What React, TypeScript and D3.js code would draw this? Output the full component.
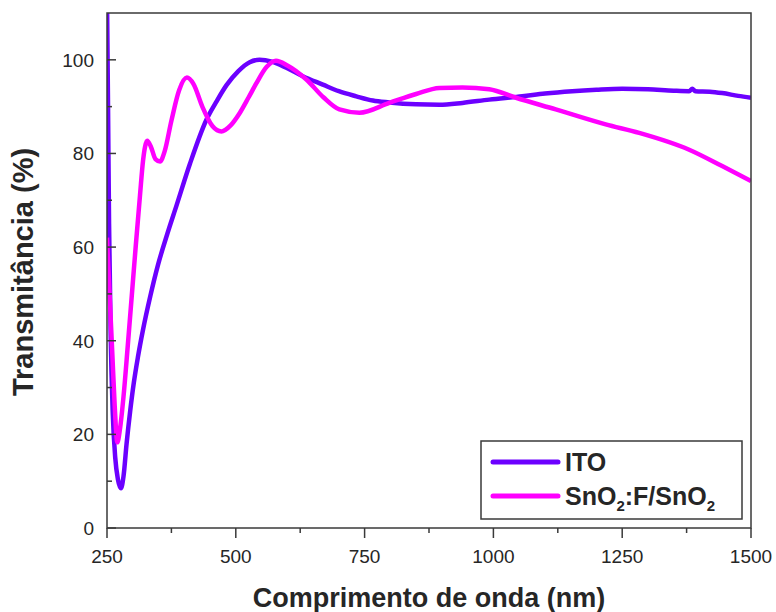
import * as d3 from "d3";

// wavelength (nm) / transmittance (%)
const itoWave = [250, 252, 254, 257, 261, 266, 271, 277, 282, 288, 295, 302, 310, 320, 334, 349, 367, 385, 411, 443, 462, 482, 505, 527, 546, 570, 598, 630, 669, 700, 734, 766, 798, 850, 895, 940, 992, 1056, 1100, 1153, 1200, 1250, 1300, 1350, 1380, 1386, 1392, 1420, 1444, 1475, 1500];
const itoT = [113, 90, 65, 42, 25, 15, 10.5, 8.5, 11, 18, 25, 31, 36.5, 42.4, 49.5, 56.2, 62.8, 68.9, 77.8, 87.2, 91, 94.6, 97.6, 99.5, 100, 99.6, 98.3, 96.5, 94.7, 93.3, 92.2, 91.3, 90.9, 90.5, 90.4, 90.8, 91.5, 92.2, 92.8, 93.3, 93.6, 93.8, 93.7, 93.4, 93.3, 93.8, 93.3, 93.2, 92.9, 92.3, 91.9];

const fsnWave = [250, 255, 260, 265, 270, 275, 282, 290, 298, 306, 314, 320, 324, 328, 335, 344, 353, 362, 375, 390, 405, 418, 435, 455, 472, 490, 508, 525, 540, 560, 578, 600, 637, 670, 701, 740, 798, 850, 895, 940, 992, 1044, 1121, 1218, 1283, 1380, 1444, 1500];
const fsnT = [62, 50, 38, 26, 18.3, 21, 28, 38.5, 49.5, 60.5, 71, 78.5, 81.5, 82.7, 81.5, 78.8, 78.3, 80.5, 87, 93.5, 96.2, 94.8, 90, 85.8, 84.7, 86, 88.7, 92, 95, 98.5, 99.8, 98.8, 95.8, 92, 89.4, 88.7, 90.8, 92.7, 94, 94.1, 93.7, 91.9, 89.4, 86.2, 84.4, 80.8, 77.3, 74.1];

const xMajor = [250, 500, 750, 1000, 1250, 1500];
const xMinor = [375, 625, 875, 1125, 1375];
const yMajor = [0, 20, 40, 60, 80, 100];
const yMinor = [10, 30, 50, 70, 90];

const W = 776;
const H = 612;
const margin = { top: 13, right: 25, bottom: 84, left: 107 };
const font = "'Liberation Sans', Arial, sans-serif";

export default function App() {
  const x = d3.scaleLinear().domain([250, 1500]).range([margin.left, W - margin.right]);
  const y = d3.scaleLinear().domain([0, 110]).range([H - margin.bottom, margin.top]);

  const line = d3
    .line<[number, number]>()
    .x((d) => x(d[0]))
    .y((d) => y(d[1]))
    .curve(d3.curveMonotoneX);

  const ito = itoWave.map((w, i) => [w, itoT[i]] as [number, number]);
  const fsn = fsnWave.map((w, i) => [w, fsnT[i]] as [number, number]);

  const x0 = margin.left;
  const x1 = W - margin.right;
  const y0 = H - margin.bottom;
  const y1 = margin.top;

  const itoColor = "#6c00ff";
  const fsnColor = "#ff00ff";
  const axisColor = "#3a3a3a";
  const textColor = "#262626";

  // legend box
  const lg = { x: 481, y: 441, w: 261, h: 78 };

  return (
    <svg
      width={W}
      height={H}
      style={{ position: "absolute", left: 0, top: 0, background: "#fff" }}
      fontFamily={font}
    >
      <defs>
        <clipPath id="plot-clip">
          <rect x={x0} y={y1} width={x1 - x0} height={y0 - y1} />
        </clipPath>
      </defs>

      {/* curves */}
      <g clipPath="url(#plot-clip)">
        <path d={line(ito) ?? ""} fill="none" stroke={itoColor} strokeWidth={4.5} strokeLinejoin="round" />
        <path d={line(fsn) ?? ""} fill="none" stroke={fsnColor} strokeWidth={4.5} strokeLinejoin="round" />
      </g>

      {/* frame */}
      <rect x={x0} y={y1} width={x1 - x0} height={y0 - y1} fill="none" stroke={axisColor} strokeWidth={1.5} />

      {/* x ticks (outward) */}
      {xMajor.map((v) => (
        <g key={"xm" + v}>
          <line x1={x(v)} x2={x(v)} y1={y0} y2={y0 + 10} stroke={axisColor} strokeWidth={1.5} />
          <text x={x(v)} y={y0 + 35} textAnchor="middle" fontSize={19} fill={textColor}>
            {v}
          </text>
        </g>
      ))}
      {xMinor.map((v) => (
        <line key={"xn" + v} x1={x(v)} x2={x(v)} y1={y0} y2={y0 + 5} stroke={axisColor} strokeWidth={1.5} />
      ))}

      {/* y ticks (inward) */}
      {yMajor.map((v) => (
        <g key={"ym" + v}>
          <line x1={x0} x2={x0 + 9} y1={y(v)} y2={y(v)} stroke={axisColor} strokeWidth={1.5} />
          <text x={x0 - 13} y={y(v) + 7} textAnchor="end" fontSize={19} fill={textColor}>
            {v}
          </text>
        </g>
      ))}
      {yMinor.map((v) => (
        <line key={"yn" + v} x1={x0} x2={x0 + 5} y1={y(v)} y2={y(v)} stroke={axisColor} strokeWidth={1.5} />
      ))}

      {/* axis titles */}
      <text x={429} y={607} textAnchor="middle" fontSize={27} fontWeight="bold" fill={textColor}>
        Comprimento de onda (nm)
      </text>
      <text
        transform="translate(33, 272) rotate(-90)"
        textAnchor="middle"
        fontSize={29}
        fontWeight="bold"
        fill={textColor}
      >
        Transmitância (%)
      </text>

      {/* legend */}
      <rect x={lg.x} y={lg.y} width={lg.w} height={lg.h} fill="#fff" stroke={axisColor} strokeWidth={1.5} />
      <line x1={493} x2={558} y1={462} y2={462} stroke={itoColor} strokeWidth={5} strokeLinecap="round" />
      <line x1={493} x2={558} y1={496} y2={496} stroke={fsnColor} strokeWidth={5} strokeLinecap="round" />
      <text x={565} y={471} fontSize={25} fontWeight="bold" fill={textColor}>
        ITO
      </text>
      <text x={565} y={505} fontSize={25} fontWeight="bold" fill={textColor}>
        SnO<tspan fontSize={15} dy={6}>2</tspan>
        <tspan dy={-6}>:F/SnO</tspan>
        <tspan fontSize={15} dy={6}>2</tspan>
      </text>
    </svg>
  );
}
